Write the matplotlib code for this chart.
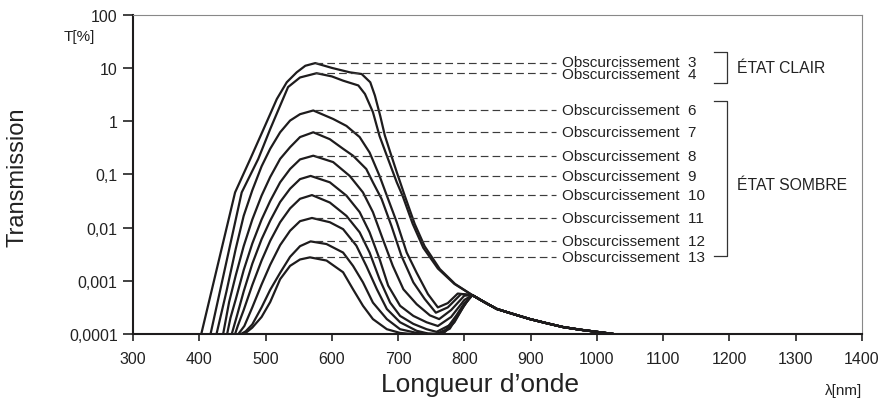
import numpy as np
import matplotlib
matplotlib.use("Agg")
import matplotlib.pyplot as plt

plt.rcParams['font.family'] = ['Liberation Sans', 'DejaVu Sans']

# transmission curves, log10(T[%])
wl_3 = [403, 454, 477, 497, 517, 532, 547, 560, 575, 600, 627, 645, 658, 665, 673, 680, 688, 698, 710, 725, 740, 763, 786]
lg_3 = [-4.0, -1.34, -0.71, -0.15, 0.415, 0.73, 0.917, 1.04, 1.09, 1.0, 0.917, 0.885, 0.73, 0.48, 0.10, -0.27, -0.58, -0.96, -1.40, -1.93, -2.35, -2.78, -3.06]

wl_4 = [417, 464, 489, 507, 522, 534, 552, 577, 600, 617, 640, 650, 662, 672, 683, 698, 707, 722, 738, 760, 785]
lg_4 = [-4.0, -1.34, -0.71, -0.15, 0.29, 0.64, 0.82, 0.90, 0.84, 0.76, 0.67, 0.51, 0.17, -0.28, -0.65, -1.15, -1.41, -1.93, -2.38, -2.77, -3.06]

wl_6 = [426, 441, 455, 467, 480, 494, 507, 522, 537, 552, 572, 602, 622, 642, 657, 672, 683, 698, 713, 728, 745, 760, 775, 790]
lg_6 = [-4.0, -3.2, -2.4, -1.78, -1.3, -0.85, -0.52, -0.21, 0.01, 0.13, 0.20, 0.04, -0.09, -0.30, -0.59, -1.03, -1.40, -1.90, -2.47, -2.85, -3.25, -3.5, -3.42, -3.24]

wl_7 = [436, 445, 455, 467, 480, 494, 507, 522, 537, 552, 572, 597, 617, 632, 652, 662, 675, 690, 705, 723, 740, 757, 775, 795]
lg_7 = [-4.0, -3.4, -2.9, -2.35, -1.85, -1.4, -1.05, -0.71, -0.49, -0.30, -0.21, -0.34, -0.52, -0.65, -0.90, -1.15, -1.46, -1.97, -2.53, -3.03, -3.34, -3.6, -3.5, -3.25]

wl_8 = [442, 447, 455, 467, 480, 494, 507, 522, 537, 552, 572, 602, 627, 647, 662, 677, 692, 708, 728, 748, 762, 780, 800]
lg_8 = [-4.0, -3.7, -3.35, -2.8, -2.3, -1.85, -1.5, -1.15, -0.9, -0.72, -0.65, -0.77, -1.03, -1.34, -1.71, -2.22, -2.72, -3.16, -3.44, -3.65, -3.72, -3.55, -3.28]

wl_9 = [449, 457, 467, 480, 494, 507, 522, 537, 552, 568, 597, 622, 642, 657, 672, 685, 703, 723, 743, 760, 780, 800]
lg_9 = [-4.0, -3.65, -3.2, -2.68, -2.22, -1.87, -1.52, -1.27, -1.09, -1.03, -1.15, -1.40, -1.71, -2.09, -2.59, -3.09, -3.47, -3.66, -3.78, -3.85, -3.68, -3.36]

wl_10 = [454, 458, 467, 480, 494, 507, 522, 537, 552, 570, 597, 622, 642, 657, 672, 688, 703, 723, 743, 758, 780, 800]
lg_10 = [-4.0, -3.85, -3.55, -3.08, -2.62, -2.25, -1.9, -1.64, -1.46, -1.39, -1.53, -1.78, -2.09, -2.47, -2.97, -3.41, -3.66, -3.81, -3.91, -3.96, -3.82, -3.45]

wl_11 = [459, 468, 480, 494, 507, 522, 537, 552, 570, 597, 617, 637, 652, 668, 683, 703, 728, 745, 757, 772, 788, 800]
lg_11 = [-4.0, -3.85, -3.5, -3.07, -2.7, -2.33, -2.06, -1.88, -1.82, -1.90, -2.03, -2.34, -2.72, -3.16, -3.53, -3.78, -3.94, -3.99, -4.0, -3.92, -3.65, -3.42]

wl_12 = [463, 470, 480, 494, 507, 522, 537, 552, 568, 592, 617, 632, 647, 662, 683, 703, 728, 745, 762, 778, 792, 803]
lg_12 = [-4.0, -3.95, -3.82, -3.5, -3.17, -2.85, -2.55, -2.35, -2.26, -2.31, -2.47, -2.72, -3.03, -3.41, -3.72, -3.91, -3.98, -4.0, -4.0, -3.9, -3.62, -3.4]

wl_13 = [465, 470, 480, 494, 507, 522, 537, 552, 567, 592, 617, 632, 647, 662, 683, 703, 720, 760, 770, 785, 798, 808]
lg_13 = [-4.0, -3.98, -3.88, -3.68, -3.4, -2.97, -2.72, -2.6, -2.56, -2.62, -2.84, -3.16, -3.47, -3.72, -3.91, -3.98, -4.0, -4.0, -3.97, -3.78, -3.5, -3.32]

# common tail above 810 nm
wl_tail = [812, 830, 849, 875, 899, 925, 949, 975, 1000, 1025]
lg_tail = [-3.27, -3.40, -3.53, -3.63, -3.72, -3.80, -3.87, -3.92, -3.96, -4.0]

levels = [3, 4, 6, 7, 8, 9, 10, 11, 12, 13]
curves = [(wl_3, lg_3), (wl_4, lg_4), (wl_6, lg_6), (wl_7, lg_7), (wl_8, lg_8),
          (wl_9, lg_9), (wl_10, lg_10), (wl_11, lg_11), (wl_12, lg_12), (wl_13, lg_13)]

x_ticks = [300, 400, 500, 600, 700, 800, 900, 1000, 1100, 1200, 1300, 1400]
y_ticks = [0.0001, 0.001, 0.01, 0.1, 1, 10, 100]
y_labels = ['0,0001', '0,001', '0,01', '0,1', '1', '10', '100']

fig = plt.figure(figsize=(8.85, 4.06), dpi=100)
ax = fig.add_axes([0.1503, 0.1749, 0.8237, 0.7865])

ink = '#1e1c1d'
peaks = []
for (wl, lg), n in zip(curves, levels):
    x = list(wl) + wl_tail
    y = 10 ** np.array(list(lg) + lg_tail)
    ax.plot(x, y, color=ink, lw=1.6, solid_joinstyle='round', solid_capstyle='round')
    peak = 10 ** max(lg)
    peaks.append(peak)
    ax.plot([575, 939], [peak, peak], color='#3c3c3c', lw=0.85, ls=(0, (6.5, 3.5)))

# labels: the two clear-state ones sit so close they go as one block
ax.text(947, np.sqrt(peaks[0] * peaks[1]),
        'Obscurcissement  %d\nObscurcissement  %d' % (levels[0], levels[1]),
        fontsize=11, va='center', ha='left', color='#222', linespacing=0.85)
for n, peak in zip(levels[2:], peaks[2:]):
    ax.text(947, peak, 'Obscurcissement  %d' % n, fontsize=11, va='center', ha='left', color='#222')

# brackets for the two states
bx, bl = 1196.5, 1176.6
ax.plot([bl, bx, bx, bl], [19.6, 19.6, 5.14, 5.14], color='#333', lw=0.9)
ax.plot([bl, bx, bx, bl], [2.42, 2.42, 0.00295, 0.00295], color='#333', lw=0.9)
ax.text(1212, 10, 'ÉTAT CLAIR', fontsize=11.3, va='center', ha='left', color='#222')
ax.text(1212, 0.064, 'ÉTAT SOMBRE', fontsize=11.3, va='center', ha='left', color='#222')

ax.set_xlim(300, 1400)
ax.set_yscale('log')
ax.set_ylim(0.0001, 100)
ax.set_xticks(x_ticks)
ax.set_xticklabels([str(v) for v in x_ticks])
ax.set_yticks(y_ticks)
ax.set_yticklabels(y_labels)
ax.minorticks_off()
ax.tick_params(axis='x', direction='out', length=5, width=1.2, pad=7.5, labelsize=11.5, colors='#222')
ax.tick_params(axis='y', direction='out', length=7, width=1.2, pad=4, labelsize=11.5, colors='#222')

for side in ['left', 'bottom']:
    ax.spines[side].set_linewidth(1.5)
    ax.spines[side].set_color('#1e1c1d')
for side in ['top', 'right']:
    ax.spines[side].set_linewidth(0.8)
    ax.spines[side].set_color('#888888')

fig.text(17.5 / 885, 1 - 177.5 / 406, 'Transmission', rotation=90, fontsize=17,
         ha='center', va='center', color='#222')
fig.text(480 / 885, 1 - 392 / 406, 'Longueur d\u2019onde', fontsize=19,
         ha='center', va='baseline', color='#222')
fig.text(95 / 885, 1 - 41 / 406, 'T[%]', fontsize=11, ha='right', va='baseline', color='#222')
fig.text(862 / 885, 1 - 395 / 406, '\u03bb[nm]', fontsize=11, ha='right', va='baseline', color='#222')

fig.savefig('out.png', dpi=100)
